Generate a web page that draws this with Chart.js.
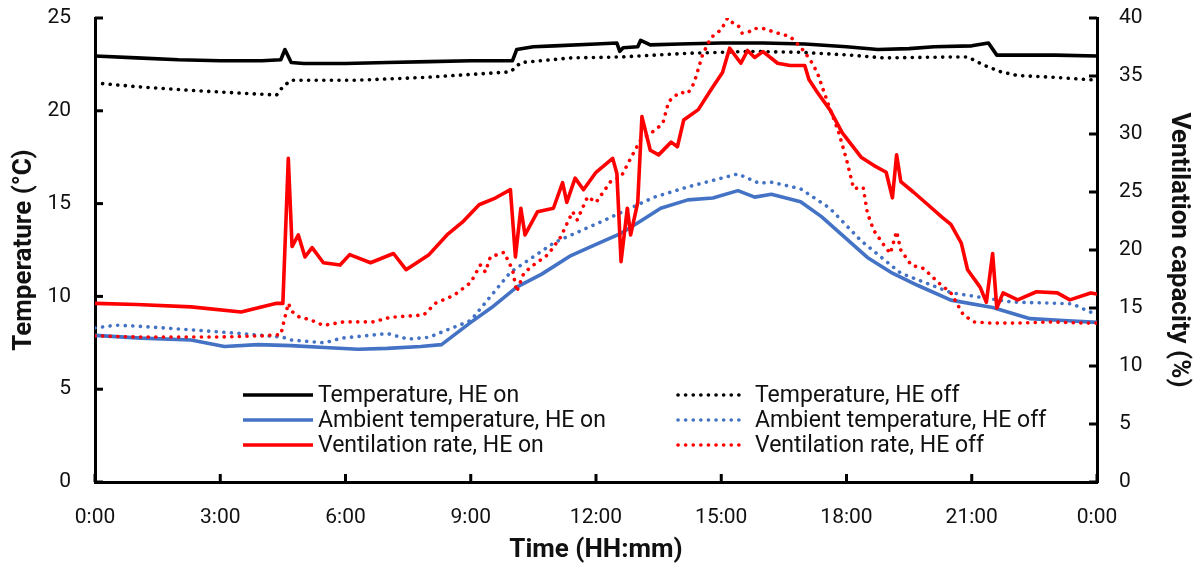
<!DOCTYPE html>
<html>
<head>
<meta charset="utf-8">
<script src="https://cdn.jsdelivr.net/npm/chart.js@4.4.1/dist/chart.umd.min.js"></script>
<style>
  html, body { margin: 0; padding: 0; background: #fff; }
  #wrap { width: 1194px; height: 570px; position: relative; }
</style>
</head>
<body>
<div id="wrap"><canvas id="chartCanvas"></canvas></div>
<script>
// hours of the day for each series, and the values
const tempOnT = [0,1,2,3,4,4.45,4.55,4.7,5,6,7,8,9,10.0,10.1,10.5,11,12,12.5,12.57,12.65,13.0,13.07,13.3,14,15,16,17,18,18.75,19.5,20.1,21,21.4,21.6,22,23,24];
const tempOn  = [22.95,22.85,22.75,22.7,22.7,22.75,23.3,22.6,22.55,22.55,22.6,22.65,22.7,22.7,23.3,23.45,23.5,23.6,23.65,23.2,23.4,23.45,23.8,23.55,23.6,23.65,23.65,23.6,23.45,23.3,23.35,23.45,23.5,23.65,23.0,23.0,23.0,22.95];

const tempOffT = [0,1,2.3,3.5,4.35,4.5,4.7,6.3,7.9,9.95,10.2,11.4,12.6,14.2,15,15.7,16.9,18.1,18.9,20.5,20.9,21.3,21.7,22.1,23,24];
const tempOff  = [21.5,21.3,21.1,20.95,20.85,21.3,21.65,21.65,21.8,22.1,22.6,22.85,22.9,23.1,23.15,23.2,23.15,23.0,22.85,22.9,22.9,22.45,22.1,21.9,21.8,21.65];

const ambOnT = [0,1.1,2.3,3.1,3.9,4.7,5.5,6.3,7,7.8,8.3,9.0,9.5,10.1,10.7,11.4,12,12.6,13.1,13.55,14.2,14.8,15.4,15.8,16.2,16.9,17.4,18.0,18.5,19.1,19.7,20.5,21.5,22.4,23.2,24];
const ambOn  = [7.9,7.75,7.65,7.3,7.4,7.35,7.25,7.15,7.2,7.3,7.4,8.6,9.4,10.5,11.2,12.2,12.8,13.4,14.1,14.75,15.2,15.3,15.7,15.35,15.5,15.1,14.3,13.1,12.1,11.25,10.6,9.8,9.4,8.8,8.7,8.6];

const ambOffT = [0,0.5,1,2.3,3.5,4.5,4.7,5.5,5.9,7,7.5,8,9,9.95,11,12.2,13.4,14.2,15.4,15.9,16.2,16.9,17.6,18.35,19.3,20.5,21.95,23.4,24];
const ambOff  = [8.3,8.45,8.4,8.2,8.0,7.8,7.65,7.5,7.75,8.0,7.7,7.8,8.7,11.3,12.9,14.1,15.35,15.9,16.6,16.1,16.15,15.8,14.75,13.0,11.25,10.2,9.7,9.6,9.0];

const ventOnT = [0,1,2.3,3.5,4.35,4.5,4.63,4.72,4.87,5.03,5.2,5.47,5.87,6.1,6.6,7.15,7.45,8.0,8.43,8.8,9.2,9.6,9.95,10.07,10.2,10.3,10.6,10.98,11.2,11.3,11.5,11.7,12.0,12.4,12.5,12.6,12.75,12.83,13.0,13.1,13.3,13.5,13.8,13.95,14.1,14.45,14.75,15.03,15.2,15.47,15.63,15.8,16.0,16.35,16.65,17.0,17.1,17.3,17.6,17.9,18.35,18.65,18.95,19.1,19.2,19.3,19.6,19.95,20.3,20.5,20.75,20.9,21.2,21.35,21.5,21.6,21.75,22.1,22.55,23.05,23.35,23.85,24];
const ventOn  = [15.4,15.3,15.1,14.65,15.4,15.4,27.9,20.3,21.3,19.4,20.2,18.9,18.7,19.6,18.9,19.7,18.3,19.6,21.3,22.4,23.9,24.5,25.2,19.4,23.6,21.3,23.3,23.6,25.8,24.1,26.2,25.2,26.7,27.9,26.6,19.0,23.6,21.3,24.1,31.5,28.6,28.2,29.3,28.9,31.2,32.1,33.8,35.3,37.4,36.1,37.2,36.6,37.1,36.1,35.9,35.9,34.7,33.6,32.1,30.1,28.0,27.3,26.7,24.5,28.2,25.9,25.0,23.9,22.8,22.2,20.6,18.3,16.8,15.5,19.7,15.0,16.3,15.7,16.4,16.3,15.7,16.3,16.2];

const ventOffT = [0,1,2,3,4,4.45,4.63,4.72,4.9,5.15,5.47,5.95,6.67,7.07,7.87,7.96,8.15,8.6,9.0,9.23,9.35,9.47,9.8,10.0,10.1,10.27,10.5,10.85,11.15,11.44,11.55,11.8,12.0,12.35,12.6,12.83,13.07,13.4,13.6,13.74,14.0,14.2,14.35,14.55,14.75,15.0,15.15,15.27,15.4,15.5,15.66,15.78,16.0,16.35,16.65,16.9,17.13,17.3,17.55,17.8,18.0,18.17,18.4,18.5,18.65,18.9,19.05,19.2,19.3,19.55,19.85,20.2,20.5,20.8,21.05,21.45,22.1,22.9,23.7,24];
const ventOff  = [12.6,12.5,12.5,12.5,12.6,12.7,15.4,14.7,14.2,14.0,13.5,13.8,13.8,14.2,14.4,14.7,15.4,16.1,17.2,18.7,18.1,19.4,19.8,18.3,16.4,18.0,18.7,19.6,21.1,23.3,22.6,24.6,24.1,25.9,26.3,27.9,29.5,30.3,30.9,32.8,33.6,33.5,34.4,36.8,38.3,39.0,40.0,39.6,39.4,38.7,38.8,39.1,39.1,38.7,38.4,37.5,36.4,35.3,32.7,30.3,27.8,25.3,25.4,23.2,21.7,20.4,19.7,21.6,20.0,18.7,18.4,17.2,16.3,14.4,13.8,13.7,13.7,13.8,13.7,13.7];

const seriesLabels = [
    "Temperature, HE on", "Temperature, HE off",
    "Ambient temperature, HE on", "Ambient temperature, HE off",
    "Ventilation rate, HE on", "Ventilation rate, HE off"
];
const hourTicks = [0, 3, 6, 9, 12, 15, 18, 21, 24];

const FONT = "Roboto, 'Liberation Sans', sans-serif";
const BLACK = '#000000';
const BLUE = '#4472C4';
const RED = '#FF0000';
const DOTS = [0.1, 7.5];

function pts(t, v) {
    return t.map((h, i) => ({x: h, y: v[i]}));
}

function makeSet(label, t, v, color, dotted, axis, order) {
    return {
        label: label,
        data: pts(t, v),
        borderColor: color,
        backgroundColor: color,
        borderWidth: 3.6,
        borderDash: dotted ? DOTS : [],
        borderCapStyle: dotted ? 'round' : 'butt',
        borderJoinStyle: 'round',
        pointRadius: 0,
        tension: 0,
        fill: false,
        yAxisID: axis,
        order: order
    };
}

// legend drawn inside the plot, two columns x three rows
const legendBox = {
    id: 'legendBox',
    afterDraw(chart) {
        const ctx = chart.ctx;
        const colLine = [[243, 313], [678, 740]];
        const colText = [318, 755];
        const rowY = [395, 420, 445];
        ctx.save();
        ctx.font = "23px " + FONT;
        ctx.textBaseline = 'middle';
        ctx.fillStyle = '#111';
        chart.data.datasets.forEach((ds, i) => {
            const col = i % 2;
            const row = Math.floor(i / 2);
            const y = rowY[row];
            ctx.beginPath();
            ctx.strokeStyle = ds.borderColor;
            ctx.lineWidth = ds.borderWidth;
            ctx.setLineDash(ds.borderDash);
            ctx.lineCap = ds.borderCapStyle;
            ctx.moveTo(colLine[col][0], y);
            ctx.lineTo(colLine[col][1], y);
            ctx.stroke();
            ctx.setLineDash([]);
            ctx.fillText(ds.label, colText[col], y + 1);
        });
        ctx.restore();
    }
};

// tick marks pointing into the plot
const innerTicks = {
    id: 'innerTicks',
    afterDraw(chart) {
        const ctx = chart.ctx;
        const area = chart.chartArea;
        ctx.save();
        ctx.strokeStyle = BLACK;
        ctx.lineWidth = 3;
        ['x', 'y', 'y1'].forEach(id => {
            const s = chart.scales[id];
            s.ticks.forEach((t, i) => {
                const p = s.getPixelForTick(i);
                ctx.beginPath();
                if (id === 'x') {
                    ctx.moveTo(p, area.bottom);
                    ctx.lineTo(p, area.bottom - 8);
                } else if (id === 'y') {
                    ctx.moveTo(area.left, p);
                    ctx.lineTo(area.left + 8, p);
                } else {
                    ctx.moveTo(area.right, p);
                    ctx.lineTo(area.right - 8, p);
                }
                ctx.stroke();
            });
        });
        ctx.restore();
    }
};

const tickFont = {family: FONT, size: 21};
const titleFont = {family: FONT, size: 26, weight: 'bold'};

function fitSide(width) {
    return (s) => {
        s.width = width;
        s.paddingTop = 18;
        s.paddingBottom = 0;
    };
}

new Chart(document.getElementById('chartCanvas'), {
    type: 'line',
    data: {
        datasets: [
            makeSet(seriesLabels[0], tempOnT, tempOn, BLACK, false, 'y', 3),
            makeSet(seriesLabels[1], tempOffT, tempOff, BLACK, true, 'y', 3),
            makeSet(seriesLabels[2], ambOnT, ambOn, BLUE, false, 'y', 2),
            makeSet(seriesLabels[3], ambOffT, ambOff, BLUE, true, 'y', 2),
            makeSet(seriesLabels[4], ventOnT, ventOn, RED, false, 'y1', 0),
            makeSet(seriesLabels[5], ventOffT, ventOff, RED, true, 'y1', 1)
        ]
    },
    options: {
        responsive: true,
        maintainAspectRatio: false,
        animation: false,
        layout: {padding: 0},
        plugins: {
            legend: {display: false},
            tooltip: {enabled: false}
        },
        scales: {
            x: {
                type: 'linear',
                min: 0,
                max: 24,
                afterBuildTicks: (s) => { s.ticks = hourTicks.map(v => ({value: v})); },
                ticks: {
                    font: tickFont,
                    color: '#111',
                    padding: 23,
                    maxRotation: 0,
                    callback: (v) => (v % 24) + ':00'
                },
                grid: {display: false, drawTicks: false},
                border: {display: true, color: BLACK, width: 3},
                title: {display: true, text: 'Time (HH:mm)', font: titleFont, color: '#111', padding: {top: 0, bottom: 4}},
                afterFit: (s) => { s.height = 88; }
            },
            y: {
                position: 'left',
                min: 0,
                max: 25,
                ticks: {stepSize: 5, font: tickFont, color: '#111', padding: 24},
                grid: {display: false, drawTicks: false},
                border: {display: true, color: BLACK, width: 3},
                title: {display: true, text: 'Temperature (°C)', font: titleFont, color: '#111', padding: {top: 9}},
                afterFit: fitSide(95)
            },
            y1: {
                position: 'right',
                min: 0,
                max: 40,
                ticks: {stepSize: 5, font: tickFont, color: '#111', padding: 22},
                grid: {display: false, drawTicks: false},
                border: {display: true, color: BLACK, width: 3},
                title: {display: true, text: 'Ventilation capacity (%)', font: titleFont, color: '#111', padding: {top: 0}},
                afterFit: fitSide(97)
            }
        }
    },
    plugins: [innerTicks, legendBox]
});
</script>
</body>
</html>
